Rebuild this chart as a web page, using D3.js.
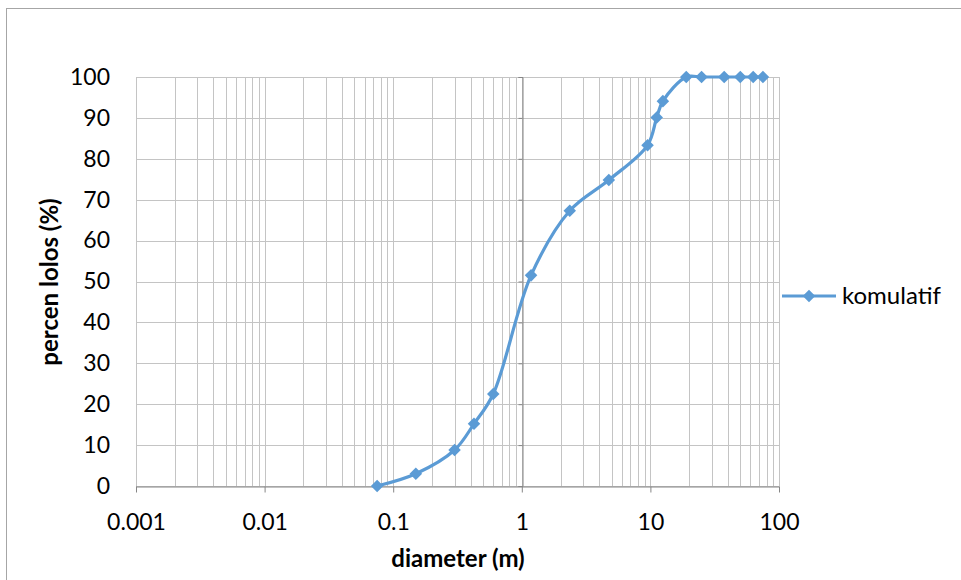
<!DOCTYPE html>
<html>
<head>
<meta charset="utf-8">
<script src="https://cdn.jsdelivr.net/npm/d3@7"></script>
<style>
  body { margin: 0; background: #fff; }
  svg { display: block; font-family: Lato, "Open Sans", sans-serif; }
</style>
</head>
<body>
<svg id="chart" width="961" height="580"></svg>
<script>
// sieve data
const diameters = [0.075, 0.15, 0.3, 0.425, 0.6, 1.18, 2.36, 4.75, 9.5, 11.2, 12.5, 19, 25, 37.5, 50, 63, 75];
const lolos = [0, 3, 8.8, 15.2, 22.5, 51.5, 67.3, 74.8, 83.3, 90.1, 94.1, 100, 100, 100, 100, 100, 100];
const xTicks = [0.001, 0.01, 0.1, 1, 10, 100];
const yTicks = [0, 10, 20, 30, 40, 50, 60, 70, 80, 90, 100];
const seriesName = "komulatif";

const svg = d3.select("#chart");
const plotL = 136, plotR = 779, plotT = 77, plotB = 486;
const color = "#5b9bd5";
const tickFont = 23;
const titleFont = 24;

// outer chart border
svg.append("rect")
    .attr("x", 6.5).attr("y", 8.5)
    .attr("width", 1000).attr("height", 1000)
    .attr("fill", "none").attr("stroke", "#a6a6a6");

const x = d3.scaleLog().domain([0.001, 100]).range([plotL, plotR]);
const y = d3.scaleLinear().domain([0, 100]).range([plotB, plotT]);

// vertical gridlines, majors and minors
let gridX = [];
for (let e = -3; e < 2; e++) {
    for (let m = 1; m < 10; m++) gridX.push(m * Math.pow(10, e));
}
gridX.push(100);

const grid = svg.append("g");
grid.selectAll("line.v")
    .data(gridX)
    .join("line")
    .attr("class", "v")
    .attr("x1", d => Math.round(x(d)) + 0.5)
    .attr("x2", d => Math.round(x(d)) + 0.5)
    .attr("y1", plotT).attr("y2", plotB)
    .attr("stroke", "#c4c4c4");
grid.selectAll("line.h")
    .data(yTicks)
    .join("line")
    .attr("class", "h")
    .attr("x1", plotL).attr("x2", plotR)
    .attr("y1", d => Math.round(y(d)) + 0.5)
    .attr("y2", d => Math.round(y(d)) + 0.5)
    .attr("stroke", "#c4c4c4");

// x axis
const xAxis = svg.append("g")
    .attr("transform", `translate(0,${Math.round(plotB) + 0.5})`)
    .call(d3.axisBottom(x).tickValues(xTicks).tickFormat(d => d3.format("~g")(d)).tickSize(6).tickSizeOuter(0).tickPadding(21));
xAxis.select(".domain").attr("stroke", "#868686");
xAxis.selectAll(".tick line").attr("stroke", "#868686");
xAxis.selectAll("text").attr("font-size", tickFont).attr("fill", "#000").attr("font-family", "Lato");

// y axis labels on the left
const yAxis = svg.append("g")
    .attr("transform", `translate(${plotL},0)`)
    .call(d3.axisLeft(y).tickValues(yTicks).tickSize(0).tickPadding(26));
yAxis.select(".domain").remove();
yAxis.selectAll("text").attr("font-size", tickFont).attr("fill", "#000").attr("font-family", "Lato");

// y axis line crosses at x = 1
const yLine = svg.append("g")
    .attr("transform", `translate(${Math.round(x(1)) + 0.5},0)`)
    .call(d3.axisLeft(y).tickValues(yTicks).tickSize(4).tickFormat(""));
yLine.select(".domain").attr("stroke", "#868686");
yLine.selectAll(".tick line").attr("stroke", "#868686");

// axis titles
svg.append("text")
    .attr("x", 458).attr("y", 567)
    .attr("text-anchor", "middle")
    .attr("font-size", titleFont).attr("font-weight", "bold")
    .text("diameter (m)");
svg.append("text")
    .attr("transform", `translate(58,282) rotate(-90)`)
    .attr("text-anchor", "middle")
    .attr("font-size", titleFont).attr("font-weight", "bold")
    .text("percen lolos (%)");

// series
const pts = diameters.map((d, i) => [d, lolos[i]]);
const line = d3.line()
    .x(d => x(d[0]))
    .y(d => y(d[1]))
    .curve(d3.curveCatmullRom.alpha(0.5));
svg.append("path")
    .datum(pts)
    .attr("d", line)
    .attr("fill", "none")
    .attr("stroke", color)
    .attr("stroke-width", 3.2)
    .attr("stroke-linejoin", "round");

const diamond = d3.symbol().type(d3.symbolDiamond2).size(100);
svg.append("g")
    .selectAll("path")
    .data(pts)
    .join("path")
    .attr("d", diamond)
    .attr("transform", d => `translate(${x(d[0])},${y(d[1])})`)
    .attr("fill", color);

// legend
const lg = svg.append("g").attr("transform", "translate(782,296)");
lg.append("line")
    .attr("x1", 0).attr("x2", 54)
    .attr("stroke", color).attr("stroke-width", 3.2);
lg.append("path").attr("d", diamond).attr("transform", "translate(27,0)").attr("fill", color);
lg.append("text")
    .attr("x", 60).attr("dy", "0.35em")
    .attr("font-size", 24)
    .text(seriesName);
</script>
</body>
</html>
